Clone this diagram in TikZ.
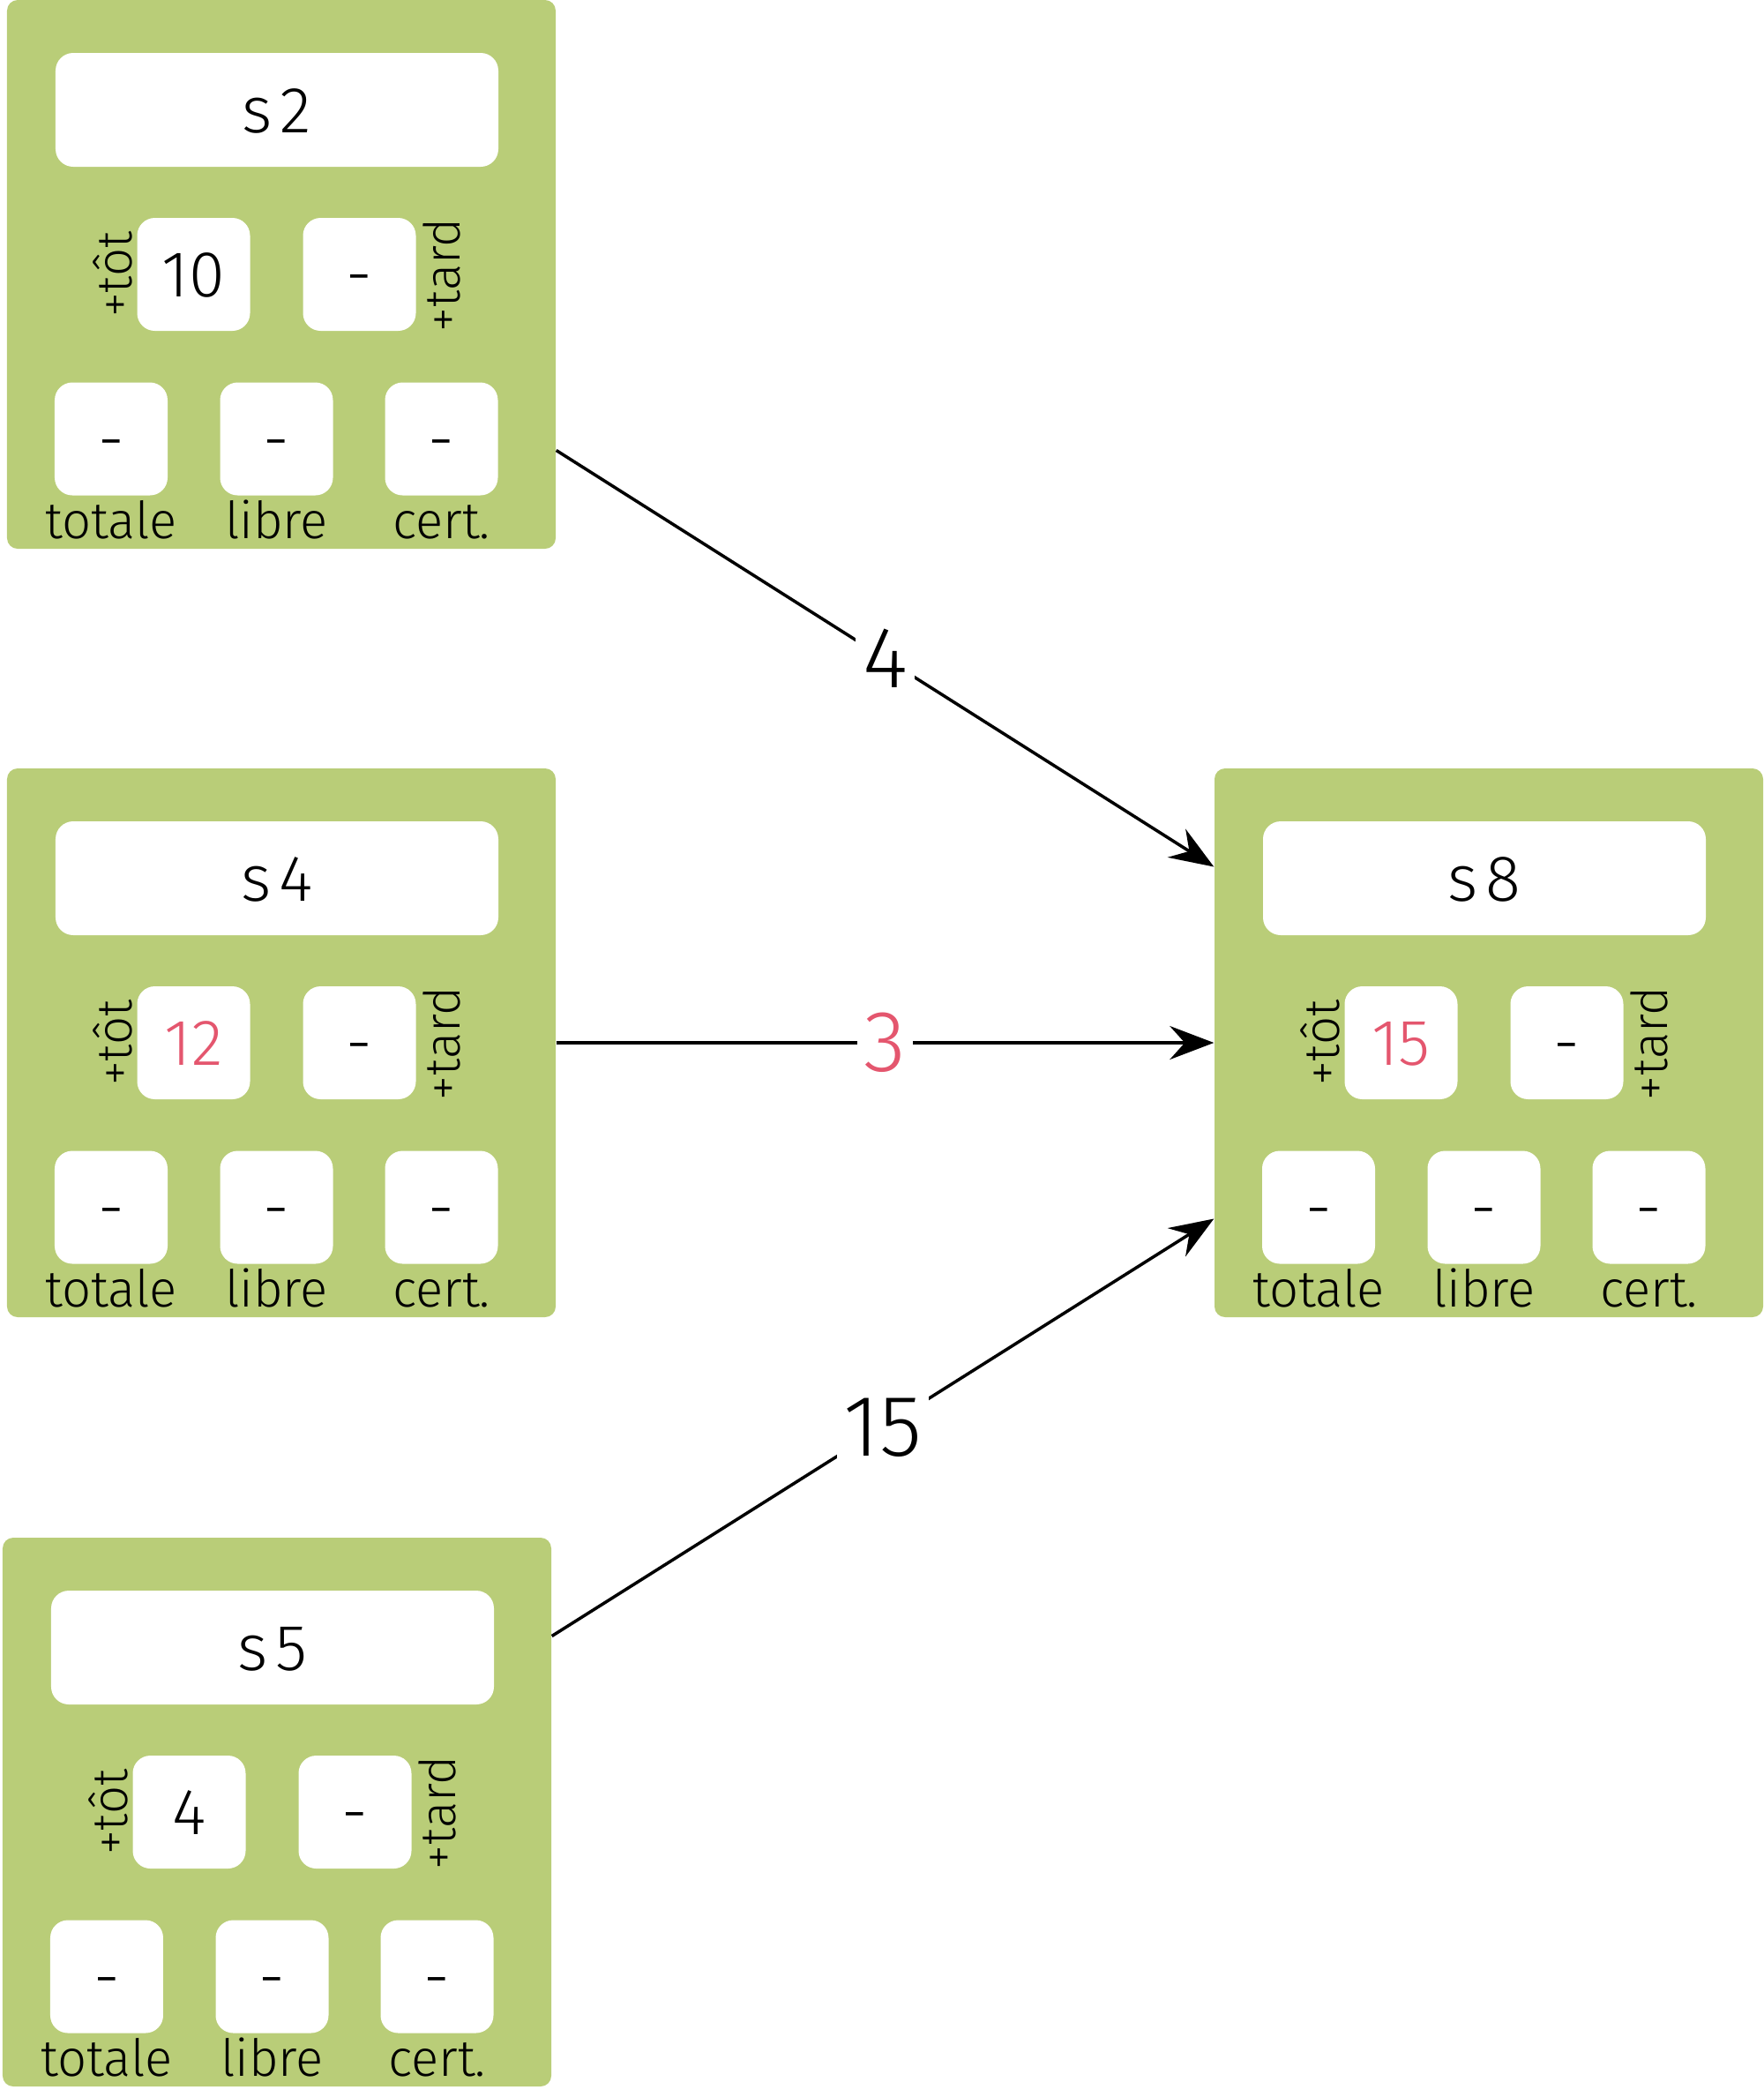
\documentclass[tikz,border=0pt]{standalone}
\usepackage{fontspec}
\setmainfont{Fira Sans Light}
\usetikzlibrary{arrows.meta,calc}
\definecolor{boxgreen}{HTML}{B9CD78}
\definecolor{hired}{HTML}{E4566E}
\tikzset{
  outerbox/.style={fill=boxgreen, rounded corners=0.12cm, minimum width=6.22cm, minimum height=6.22cm, inner sep=0pt},
  titlebox/.style={fill=white, rounded corners=0.2cm, minimum width=5.02cm, minimum height=1.29cm, inner sep=0pt, font=\fontsize{21}{21}\selectfont, text height=14.5pt, text depth=0pt},
  cell/.style={fill=white, rounded corners=0.2cm, minimum width=1.28cm, minimum height=1.28cm, inner sep=0pt, font=\fontsize{21}{21}\selectfont, text height=14.5pt, text depth=0pt},
  sidelabel/.style={rotate=90, inner sep=0pt, font=\fontsize{16}{16}\selectfont},
  botlabel/.style={anchor=base, inner sep=0pt, font=\fontsize{16.5}{16.5}\selectfont},
  arr/.style={-{Stealth[length=0.5cm, width=0.38cm, inset=0.17cm]}, line width=1pt},
  weight/.style={fill=white, inner sep=0.08cm, font=\fontsize{28}{28}\selectfont}
}
\newcommand\tache[5]{%
  \begin{scope}[shift={#2}]
    \node[outerbox] (#1) at (3.11,-3.11) {};
    \node[titlebox] (#1-title) at (3.06,-1.245) {s\kern0.12em#3};
    \node[cell, text=#5] (#1-tot) at (2.115,-3.11) {#4};
    \node[cell] (#1-tard) at (3.995,-3.11) {-};
    \node[cell] (#1-totale) at (1.18,-4.975) {-};
    \node[cell] (#1-libre) at (3.055,-4.975) {-};
    \node[cell] (#1-cert) at (4.925,-4.975) {-};
    \node[sidelabel] (#1-ltot) at (1.20,-3.11) {+tôt};
    \node[sidelabel] (#1-ltard) at (4.93,-3.12) {+tard};
    \node[botlabel] (#1-ltotale) at (1.18,-6.10) {totale};
    \node[botlabel] (#1-llibre) at (3.055,-6.10) {libre};
    \node[botlabel] (#1-lcert) at (4.925,-6.10) {cert.};
  \end{scope}}
\begin{document}
\begin{tikzpicture}
\useasboundingbox (0,0) rectangle (20,-23.77);
\tache{s2}{(0.08,0)}{2}{10}{black}
\tache{s4}{(0.08,-8.71)}{4}{12}{hired}
\tache{s5}{(0.03,-17.43)}{5}{4}{black}
\tache{s8}{(13.77,-8.71)}{8}{15}{hired}
\draw[arr] ($(s2.north east)!0.82!(s2.south east)$) -- node[weight] {4} ($(s8.north west)!0.18!(s8.south west)$);
\draw[arr] (s4.east) -- node[weight, text=hired] {3} (s8.west);
\draw[arr] ($(s5.north east)!0.18!(s5.south east)$) -- node[weight] {15} ($(s8.north west)!0.82!(s8.south west)$);
\end{tikzpicture}
\end{document}
